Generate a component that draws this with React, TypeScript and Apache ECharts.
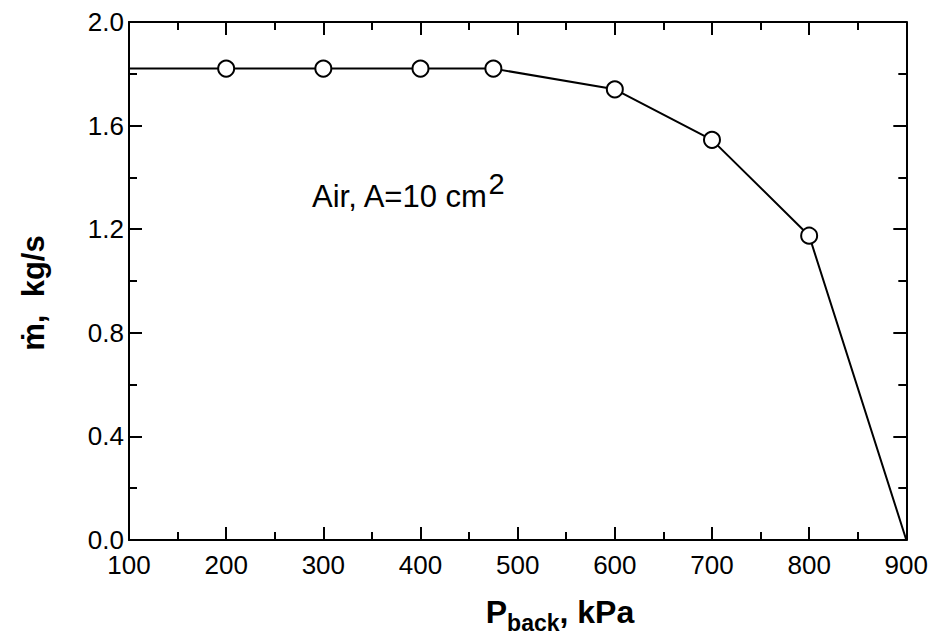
import React, { useEffect, useRef } from "react";
import * as echarts from "echarts";

// Back pressure (kPa) and mass flow rate (kg/s)
const backPressure = [100, 200, 300, 400, 475, 600, 700, 800, 900];
const massFlow = [1.82, 1.82, 1.82, 1.82, 1.82, 1.74, 1.545, 1.175, 0];
const hasMarker = [false, true, true, true, true, true, true, true, false];

const xMin = 100;
const xMax = 900;
const xStep = 100;
const yMin = 0;
const yMax = 2.0;
const yStep = 0.4;

const annotationText = "Air, A=10 cm";
const annotationSup = "2";
const xTitleMain = "P";
const xTitleSub = "back";
const xTitleRest = ", kPa";
const yTitle = "\u1E41,  kg/s";

const FONT = "'Liberation Sans', Arial, Helvetica, sans-serif";

export default function App() {
  const ref = useRef<HTMLDivElement>(null);

  useEffect(() => {
    if (!ref.current) return;
    const chart = echarts.init(ref.current, null, { renderer: "svg" });

    const axisLine = { show: true, onZero: false, lineStyle: { color: "#000", width: 2 } };
    const axisTick = { show: true, inside: true, length: 13, lineStyle: { color: "#000", width: 2 } };
    const minorTick = { show: true, splitNumber: 2, length: 8, lineStyle: { color: "#000", width: 2 } };

    const baseX = {
      type: "value" as const,
      min: xMin,
      max: xMax,
      interval: xStep,
      axisLine,
      axisTick,
      minorTick,
      splitLine: { show: false },
      minorSplitLine: { show: false },
    };
    const baseY = {
      type: "value" as const,
      min: yMin,
      max: yMax,
      interval: yStep,
      axisLine,
      axisTick,
      minorTick,
      splitLine: { show: false },
      minorSplitLine: { show: false },
    };

    chart.setOption({
      animation: false,
      backgroundColor: "#fff",
      grid: { left: 129, right: 22, top: 22, bottom: 96, containLabel: false },
      xAxis: [
        {
          ...baseX,
          position: "bottom",
          axisLabel: {
            show: true,
            color: "#000",
            fontSize: 26,
            fontFamily: FONT,
            margin: 12,
            formatter: (v: number) => String(v),
          },
        },
        { ...baseX, position: "top", axisLabel: { show: false } },
      ],
      yAxis: [
        {
          ...baseY,
          position: "left",
          axisLabel: {
            show: true,
            color: "#000",
            fontSize: 26,
            fontFamily: FONT,
            margin: 5,
            formatter: (v: number) => v.toFixed(1),
          },
        },
        { ...baseY, position: "right", axisLabel: { show: false } },
      ],
      series: [
        {
          type: "line",
          xAxisIndex: 0,
          yAxisIndex: 0,
          clip: false,
          symbolSize: 16,
          showSymbol: true,
          itemStyle: { color: "#fff", borderColor: "#000", borderWidth: 2 },
          lineStyle: { color: "#000", width: 2 },
          data: backPressure.map((x, i) => ({
            value: [x, massFlow[i]],
            symbol: hasMarker[i] ? "circle" : "none",
          })),
          z: 5,
        },
      ],
      graphic: [
        {
          type: "text",
          x: 312,
          y: 181,
          style: {
            text: `{a|${annotationText}}{s|${annotationSup}}`,
            fill: "#000",
            align: "left",
            verticalAlign: "top",
            fontFamily: FONT,
            rich: {
              a: { fontSize: 31, height: 31, lineHeight: 31, verticalAlign: "bottom", fontFamily: FONT, fill: "#000" },
              s: { fontSize: 29, height: 6, lineHeight: 6, verticalAlign: "top", fontFamily: FONT, fill: "#000" },
            },
          },
        },
        {
          type: "text",
          x: 560,
          y: 596,
          style: {
            text: `{p|${xTitleMain}}{b|${xTitleSub}}{p|${xTitleRest}}`,
            fill: "#000",
            align: "center",
            verticalAlign: "top",
            fontFamily: FONT,
            rich: {
              p: { fontSize: 32, fontWeight: "bold", height: 32, lineHeight: 32, verticalAlign: "bottom", fontFamily: FONT, fill: "#000" },
              b: { fontSize: 23, fontWeight: "bold", height: 11, lineHeight: 11, verticalAlign: "bottom", fontFamily: FONT, fill: "#000" },
            },
          },
        },
        {
          type: "text",
          x: 33,
          y: 293,
          rotation: Math.PI / 2,
          style: {
            text: yTitle,
            fill: "#000",
            fontSize: 31,
            fontWeight: "bold",
            fontFamily: FONT,
            align: "center",
            verticalAlign: "middle",
          },
        },
      ],
    });

    return () => chart.dispose();
  }, []);

  return (
    <div
      ref={ref}
      style={{ position: "fixed", left: 0, top: 0, width: 931, height: 636, background: "#fff" }}
    />
  );
}
